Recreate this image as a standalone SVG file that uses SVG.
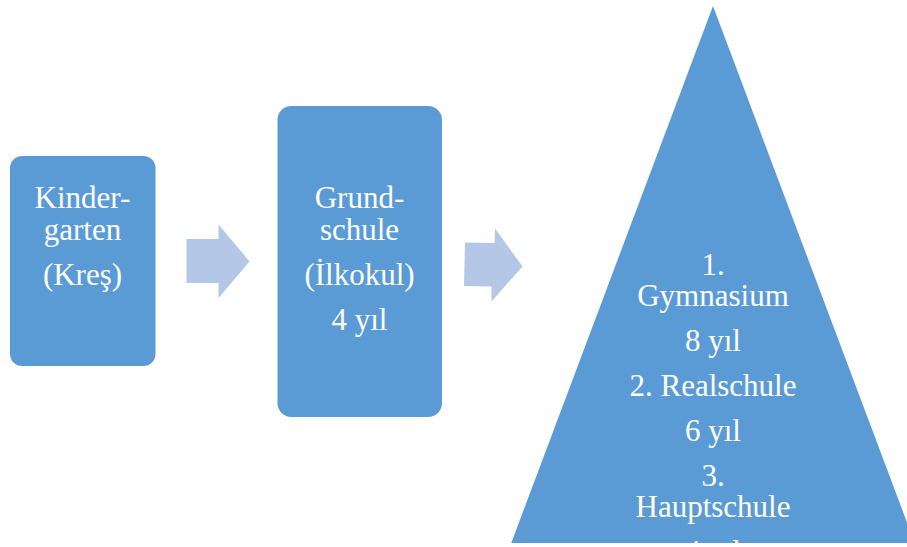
<svg xmlns="http://www.w3.org/2000/svg" width="907" height="547" viewBox="0 0 907 547">
  <style>
    .node { fill: #5B9BD5; }
    .arrow { fill: #B4C7E7; }
    .label { font-size: 31px; fill: #FFFFFF; text-anchor: middle; }
  </style>
  <defs>
    <clipPath id="pageClip">
      <rect x="0" y="0" width="907" height="543"/>
    </clipPath>
  </defs>
  <rect x="0" y="0" width="907" height="547" fill="#FFFFFF"/>

  <g id="connectors">
    <polygon class="arrow" points="186.5,239 218.5,239 218.5,224.5 249.5,261.5 218.5,298 218.5,283 186.5,283"/>
    <polygon class="arrow" points="465,242.5 494.5,243 495,228.5 522.5,266.5 491.5,301.5 491.5,286.5 464,286"/>
  </g>

  <g id="kindergarten" font-family="'Liberation Serif', 'Times New Roman', serif">
    <rect class="node" x="10" y="156" width="145.5" height="210" rx="12" ry="12"/>
    <text class="label" x="82.5" y="208">Kinder-</text>
    <text class="label" x="82.5" y="240">garten</text>
    <text class="label" x="82.5" y="285">(Kreş)</text>
  </g>

  <g id="grundschule" font-family="'Liberation Serif', 'Times New Roman', serif">
    <rect class="node" x="277.5" y="106" width="164.5" height="311" rx="14" ry="14"/>
    <text class="label" x="359.5" y="208">Grund-</text>
    <text class="label" x="359.5" y="240">schule</text>
    <text class="label" x="359.5" y="285">(İlkokul)</text>
    <text class="label" x="359.5" y="330">4 yıl</text>
  </g>

  <g id="secondary" clip-path="url(#pageClip)" font-family="'Liberation Serif', 'Times New Roman', serif">
    <polygon class="node" points="713,6 917,549 509,549"/>
    <text class="label" x="713" y="275">1.</text>
    <text class="label" x="713" y="306">Gymnasium</text>
    <text class="label" x="713" y="351">8 yıl</text>
    <text class="label" x="713" y="396">2. Realschule</text>
    <text class="label" x="713" y="441">6 yıl</text>
    <text class="label" x="713" y="486">3.</text>
    <text class="label" x="713" y="517">Hauptschule</text>
    <text class="label" x="713" y="562">4 yıl</text>
  </g>
</svg>
